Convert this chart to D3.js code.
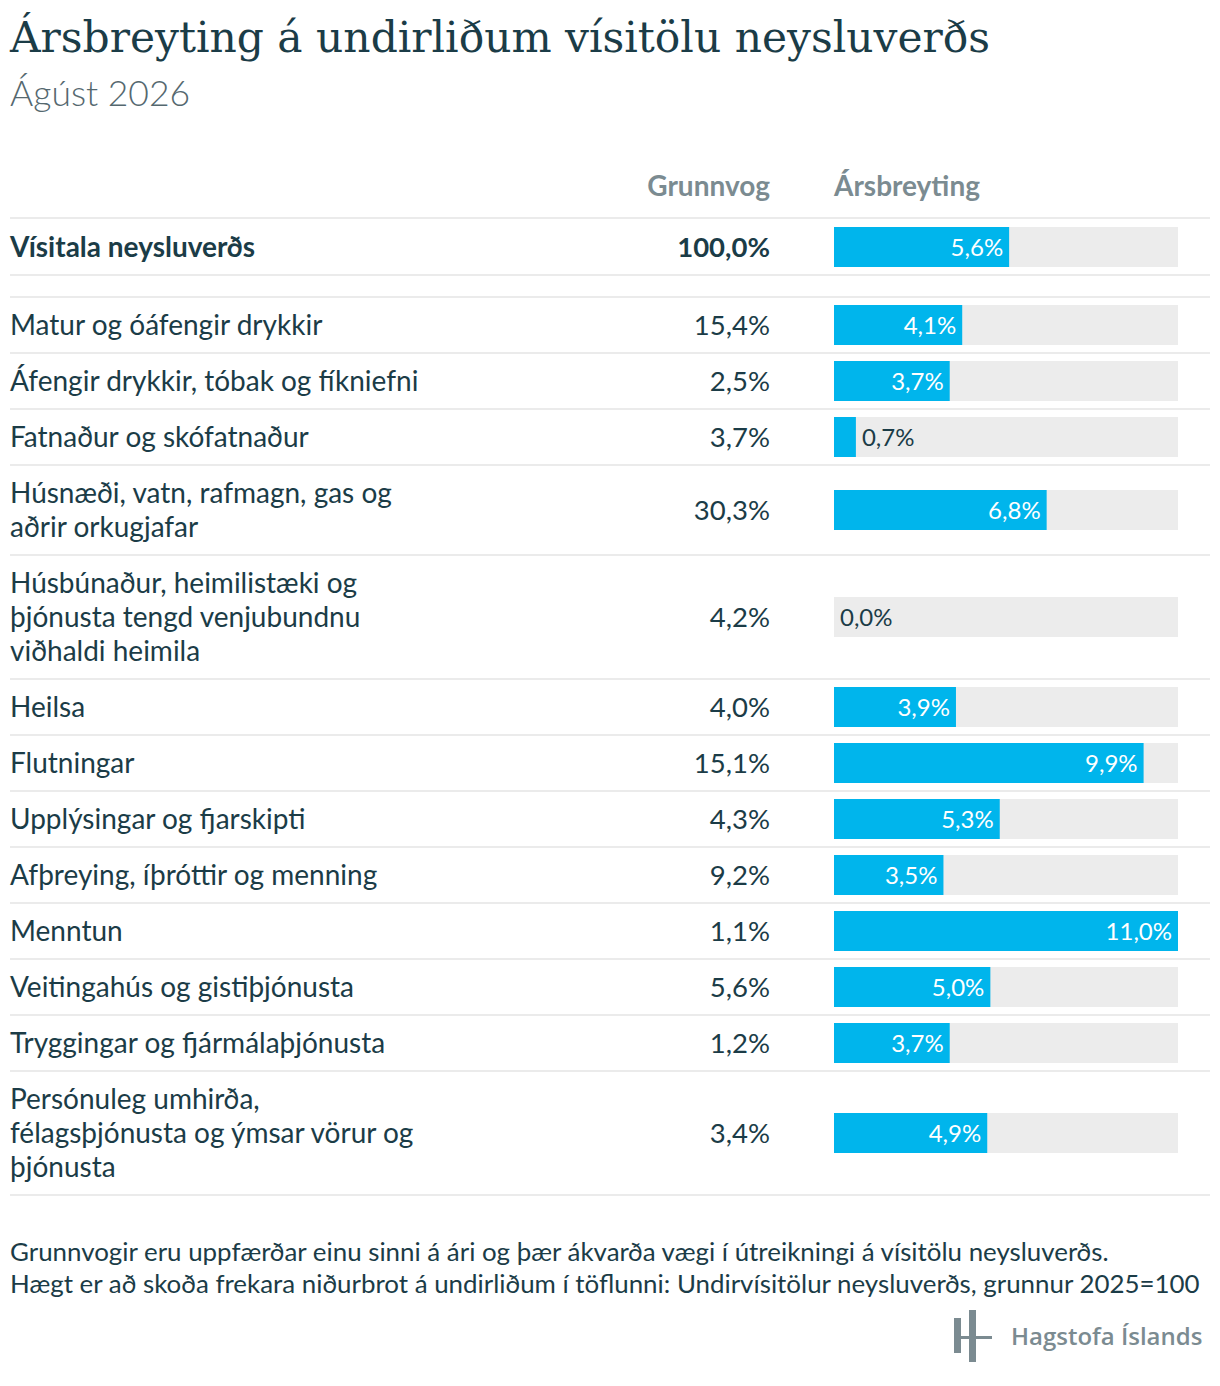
<!DOCTYPE html>
<html>
<head>
<meta charset="utf-8">
<script src="https://cdn.jsdelivr.net/npm/d3@7"></script>
<style>
  body { margin: 0; background: #fff; }
  text { font-family: Lato, "Noto Sans", sans-serif; }
</style>
</head>
<body>
<svg id="chart"></svg>
<script>
// chart data

var categories = [
	"Vísitala neysluverðs",
	"Matur og óáfengir drykkir",
	"Áfengir drykkir, tóbak og fíkniefni",
	"Fatnaður og skófatnaður",
	"Húsnæði, vatn, rafmagn, gas og aðrir orkugjafar",
	"Húsbúnaður, heimilistæki og þjónusta tengd venjubundnu viðhaldi heimila",
	"Heilsa",
	"Flutningar",
	"Upplýsingar og fjarskipti",
	"Afþreying, íþróttir og menning",
	"Menntun",
	"Veitingahús og gistiþjónusta",
	"Tryggingar og fjármálaþjónusta",
	"Persónuleg umhirða, félagsþjónusta og ýmsar vörur og þjónusta"
];

var weights = [100.0, 15.4, 2.5, 3.7, 30.3, 4.2, 4.0, 15.1, 4.3, 9.2, 1.1, 5.6, 1.2, 3.4];

var changes = [5.6, 4.1, 3.7, 0.7, 6.8, 0.0, 3.9, 9.9, 5.3, 3.5, 11.0, 5.0, 3.7, 4.9];

var columnTitles = ["Grunnvog", "Ársbreyting"];

var footnotes = [
	"Grunnvogir eru uppfærðar einu sinni á ári og þær ákvarða vægi í útreikningi á vísitölu neysluverðs.",
	"Hægt er að skoða frekara niðurbrot á undirliðum í töflunni: Undirvísitölur neysluverðs, grunnur 2025=100"
];

var width = 1220,
	height = 1386,
	left = 10,
	right = 1210,
	weightX = 770,
	barLeft = 834,
	barRight = 1178,
	labelWrap = 425,
	lineH = 34,
	barH = 40;

var dark = '#1b3c47',
	grey = '#7b8b91',
	blue = '#00b5ec',
	track = '#ececec',
	rule = '#ebebeb';

var is = d3.formatLocale({ decimal: ',', thousands: '.', grouping: [3], currency: ['', ' kr.'] });
var pct = v => is.format('.1f')(v) + '%';

var data = categories.map((c, i) => ({ name: c, weight: weights[i], change: changes[i], total: i === 0 }));

var x = d3.scaleLinear()
		.domain([0, d3.max(changes)])
		.range([barLeft, barRight]);

var svg = d3.select('#chart')
			.attr('width', width)
			.attr('height', height);

// title + subtitle
svg.append('text')
	.attr('x', left)
	.attr('y', 52)
	.style('font-family', '"DejaVu Serif", serif')
	.style('font-size', '42px')
	.attr('fill', dark)
	.attr('textLength', 980)
	.attr('lengthAdjust', 'spacingAndGlyphs')
	.text('Ársbreyting á undirliðum vísitölu neysluverðs');

svg.append('text')
	.attr('x', left)
	.attr('y', 106)
	.style('font-size', '35.5px')
	.style('font-weight', 300)
	.attr('fill', '#55686f')
	.text('Ágúst 2026');

// column titles
svg.append('text')
	.attr('x', weightX)
	.attr('y', 196)
	.attr('text-anchor', 'end')
	.style('font-size', '28px')
	.style('font-weight', 700)
	.attr('fill', grey)
	.text(columnTitles[0]);

svg.append('text')
	.attr('x', barLeft)
	.attr('y', 196)
	.style('font-size', '28px')
	.style('font-weight', 700)
	.attr('fill', grey)
	.text(columnTitles[1]);

function hline(y) {
	svg.append('line')
		.attr('x1', left).attr('x2', right)
		.attr('y1', y).attr('y2', y)
		.attr('stroke', rule)
		.attr('stroke-width', 2);
}

hline(218);

// rows
var y0 = 219;
data.forEach(function(d, i) {
	var g = svg.append('g');

	var label = g.append('text')
		.attr('x', left)
		.style('font-size', '28px')
		.style('font-weight', d.total ? 700 : 400)
		.attr('fill', dark);

	// wrap long labels
	var words = d.name.split(' '), lines = [], line = [];
	var probe = label.append('tspan');
	words.forEach(function(w) {
		line.push(w);
		probe.text(line.join(' '));
		if (probe.node().getComputedTextLength() > labelWrap && line.length > 1) {
			line.pop();
			lines.push(line.join(' '));
			line = [w];
		}
	});
	lines.push(line.join(' '));
	probe.remove();

	var rowH = 22 + lines.length * lineH;
	var cy = y0 + rowH / 2;

	lines.forEach(function(t, k) {
		label.append('tspan')
			.attr('x', left)
			.attr('y', y0 + 28 + k * lineH + 10)
			.text(t);
	});

	g.append('text')
		.attr('x', weightX)
		.attr('y', cy + 10)
		.attr('text-anchor', 'end')
		.style('font-size', '27.5px')
		.style('font-weight', d.total ? 700 : 400)
		.attr('fill', dark)
		.text(pct(d.weight));

	g.append('rect')
		.attr('x', x(0))
		.attr('y', cy - barH / 2)
		.attr('width', x.range()[1] - x(0))
		.attr('height', barH)
		.attr('fill', track);

	g.append('rect')
		.attr('x', x(0))
		.attr('y', cy - barH / 2)
		.attr('width', x(d.change) - x(0))
		.attr('height', barH)
		.attr('fill', blue);

	var val = g.append('text')
		.attr('y', cy + 9)
		.style('font-size', '24px')
		.text(pct(d.change));
	var tw = val.node().getComputedTextLength();
	if (x(d.change) - x(0) > tw + 12) {
		val.attr('x', x(d.change) - 6).attr('text-anchor', 'end').attr('fill', '#fff');
	} else {
		val.attr('x', x(d.change) + 6).attr('fill', dark);
	}

	y0 += rowH;
	hline(y0);
	if (d.total) {
		y0 += 22;
		hline(y0);
	}
});

// notes
svg.selectAll('.note')
	.data(footnotes)
	.enter()
	.append('text')
		.attr('class', 'note')
		.attr('x', left)
		.attr('y', (d, i) => 1261 + i * 32)
		.style('font-size', '25.9px')
		.attr('fill', dark)
		.text(d => d);

// logo
var logo = svg.append('g').attr('fill', grey);
logo.append('rect').attr('x', 954).attr('y', 1318).attr('width', 7).attr('height', 35);
logo.append('rect').attr('x', 969).attr('y', 1310).attr('width', 7).attr('height', 52);
logo.append('rect').attr('x', 954).attr('y', 1336).attr('width', 38).attr('height', 3);
logo.append('text')
	.attr('x', 1011)
	.attr('y', 1345)
	.style('font-family', '"Open Sans", sans-serif')
	.style('font-size', '24px')
	.style('font-weight', 600)
	.text('Hagstofa Íslands');
</script>
</body>
</html>
